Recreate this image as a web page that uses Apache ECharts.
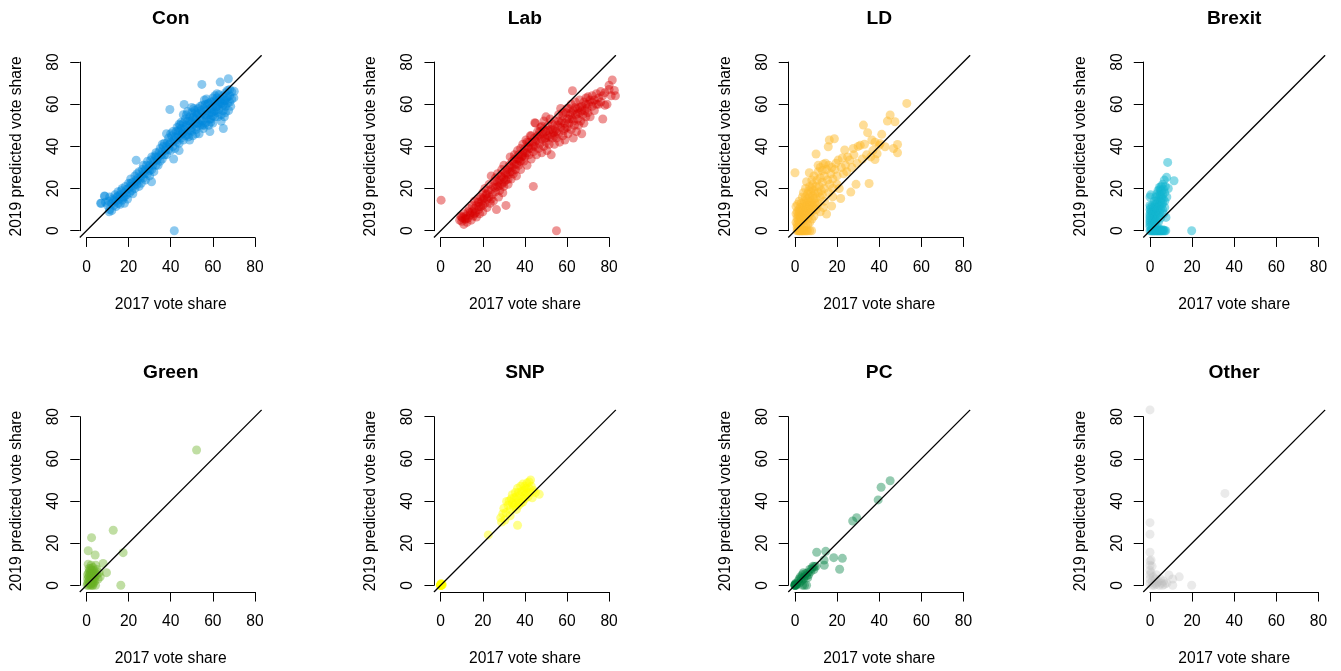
<!DOCTYPE html>
<html><head><meta charset="utf-8">
<script src="https://cdn.jsdelivr.net/npm/echarts@6/dist/echarts.min.js"></script>
<style>html,body{margin:0;padding:0;background:#fff}#c{width:1341px;height:671px}</style>
</head><body><div id="c"></div>
<script>
const parties = ['Con','Lab','LD','Brexit','Green','SNP','PC','Other'];
const partyColours = ['#0087DC','#D70000','#FDBB30','#12B6CF','#6AB023','#FFFF00','#008142','#BEBEBE'];
const partyAlpha = [0.45,0.42,0.5,0.5,0.42,0.45,0.42,0.32];
const axisTicks = [0,20,40,60,80];
const xAxisTitle = '2017 vote share';
const yAxisTitle = '2019 predicted vote share';

const con = [[7,13],[8.5,16.5],[9,13.5],[10,12],[10.5,14],[11,10],[11,16],[12,13],[12,9.5],[12.5,15],[13,12],[13.5,17],[14,14],[14,11.5],[14.5,16],[15,13],[15,18.5],[15.5,15],[16,12.5],[16,17],[16.5,19],[17,14.5],[17,20],[17.5,16],[18,18],[18,13],[18.5,21],[19,17],[19,19.5],[19.5,15],[20,20],[20,22.5],[20.5,18],[21,21],[21,24.5],[21.5,19],[22,23],[22,17.5],[22.5,21.5],[23,26],[23,20],[23.5,24],[24,22],[24,27],[24.5,25],[25,21],[25,28],[25.5,24.5],[26,26],[26,22.5],[26.5,29],[27,25],[27,31],[27.5,27],[28,29],[28,24],[28.5,31],[29,27],[29,33],[29.5,29.5],[30,31],[30,26],[30.5,33.5],[31,29],[31,35],[31.5,31],[32,33],[32,28],[32.5,35.5],[33,31],[33,37],[33.5,33.5],[34,35],[34,31],[34.5,37.5],[35,33],[35,39],[35.5,36],[36,37.5],[36,34],[36.5,40],[37,36],[37,41.5],[37.5,38],[38,40],[38,36],[38.5,42],[39,38.5],[39,44],[39.5,41],[40,42],[40,38],[40.5,45],[41,40],[41,47],[41.5,43],[42,44.5],[42,39],[42.5,47],[43,42],[43,49],[43.5,45],[44,47],[44,41.5],[44.5,50],[45,44],[45,48.5],[45.5,46],[46,51],[46,43],[46.5,48],[47,45],[47,53],[47.5,50],[48,47],[48,52],[48.5,44.5],[49,50],[49,54],[49.5,47.5],[50,52],[50,49],[50,56],[50.5,45],[51,54],[51,50.5],[51.5,57],[52,48],[52,53],[52.5,55],[53,51],[53,58],[53.5,46],[54,54],[54,50],[54.5,57],[55,52],[55,59.5],[55.5,48.5],[56,55],[56,58],[56.5,51],[57,57],[57,53.5],[57.5,60],[58,55],[58,50],[58.5,58],[59,61],[59,53],[59.5,56],[60,59],[60,63],[60,51],[60.5,56.5],[61,61],[61,54],[61.5,58.5],[62,63],[62,56],[62.5,60],[63,64.5],[63,57.5],[63.5,61],[64,55],[64,62.5],[64.5,59],[65,64],[65,57],[65.5,61.5],[66,65.5],[66,59],[66.5,63],[67,60.5],[67,66.5],[68,64],[68,61],[69,66],[70,63],
[41.7,0],[39.6,57.5],[46.4,59.9],[54.8,69.4],[67.4,72.1],[63.5,70.5],[65,48.5],[23.6,33.4],[41.4,34],[30.9,23.2],[70.2,66.1],[58.6,47],[10.8,9],[6.7,13],[8.7,16.4],
[42.5,43],[43.5,47.5],[44.5,45],[45,51.5],[46,46.5],[47,49],[47.5,55],[48,45.5],[49,52],[50,47],[50.5,53.5],[51,58],[52,51],[52.5,49.5],[53,55.5],[54,59],[54.5,52.5],[55,56],[56,50],[56.5,60],[57,55],[58,60.5],[58.5,53],[59,57.5],[60,54.5],[60.5,61.5],[61,57],[62,59],[62.5,54],[63,62],[64,60.5],[65,60],[66,62],[67,63.5],[68,67],[62,65],[56,62],[52,56],[48,56.5],[44,50.5],[40,46],[36,41],[33,35],[30,28.5],[27,28],[24,23.5],[21,22.5],[18,16],[15,16.5],[13,14.5],
[66,56],[67.5,57],[68.5,59],[69,62.5],[65.5,54],[64,52],[38,46],[44,38],[49,43],[52,46],[55,50],[59,51.5],[61,64],[57,62.5],[50,58.5],[46,55]];

const lab = [[9,5],[9.5,7],[10,4.5],[10.5,6],[11,3],[11,8],[11.5,5.5],[12,7],[12.5,4],[13,9],[13,6],[13.5,10.5],[14,7.5],[14.5,5],[15,9],[15,12],[15.5,7],[16,10.5],[16,14],[16.5,8.5],[17,12],[17,6.5],[17.5,15],[18,10],[18,13.5],[18.5,8],[19,16],[19,11.5],[19.5,14],[20,18],[20,12],[20,9],[20.5,15.5],[21,20],[21,13],[21.5,17],[22,11],[22,15],[22.5,19],[23,22],[23,16],[23.5,13],[24,19.5],[24,26],[24.5,17],[25,21],[25,14],[25.5,23.5],[26,18.5],[26,25],[26.5,10],[27,21],[27,27],[27.5,16],[28,24],[28,19],[28.5,26],[29,22],[29,29],[29.5,18],[30,25],[30,31],[30,21],[30.5,27.5],[31,12],[31,24],[31.5,29],[32,26.5],[32,22],[32.5,31],[33,28],[33,35],[33.5,24.5],[34,30],[34,33],[34.5,27],[35,31.5],[35,36],[35.5,29],[36,34],[36,26],[36.5,38],[37,31],[37,36],[37.5,33],[38,39],[38,29],[38.5,35],[39,37],[39,41],[39.5,33],[40,39],[40,35],[40.5,43],[41,37],[41,31],[41.5,40],[42,42],[42,36],[42.5,45],[43,39],[43,34],[43.5,42],[44,37.5],[44,21],[44.5,44],[45,40],[45,51],[45.5,36],[46,43],[46,47],[46.5,39],[47,45],[47,41],[47.5,49],[48,37],[48,43.5],[48.5,46],[49,40],[49,52],[49.5,44],[50,47],[50,42],[50,54],[50.5,38],[51,45],[51,50],[51.5,41],[52,48],[52,53],[52.5,36],[53,44],[53,50.5],[53.5,46.5],[54,41],[54,52],[54.5,48],[55,44],[55,0],[55.5,50],[56,46],[56,55],[56.5,42],[57,58],[57,49],[57.5,52],[58,45],[58,54.5],[58.5,47.5],[59,51],[59,43],[59.5,56],[60,49],[60,53],[60.5,46],[61,58],[61,51],[61.5,55],[62,48],[62,60],[62.5,53],[63,44],[63,57],[63.5,50],[64,55],[64,61],[64.5,47],[65,53],[65,58],[65.5,50],[66,56],[66,62],[66.5,52],[67,59],[67,46],[67.5,55],[68,61],[68,51],[68.5,57],[69,63],[69,54],[69.5,58],[70,60],[70,56],[71,62],[71,54],[72,64],[72,59],[73,57],[73,62],[74,65],[74,60],[75,63],[76,66],[76,61],[77,53],[77,64],[78,59.5],[78,65.5],[79,60],[80,67],[81,64],[81.5,71.5],[82.5,66.5],[62.6,66.4],[44.7,51.2],[0.2,14.5],[83,64],[80,69],
[27,23],[29,25.5],[31,27],[33,30.5],[35,34],[37,34],[39,35.5],[41,42],[43,45],[45,42.5],[47,47],[49,48],[51,47.5],[53,48],[55,47],[57,51],[59,48.5],[61,53],[63,52],[65,55.5],[67,57],[69,60],[58,56],[60,58],[54,45],[50,44],[46,45],[42,39],[38,33],[34,28],[30,23],[26,20.5],[22,17.5],[18,11.5],[14,8.5],[12,5.5],[10,6.5],[62,56],[64,58.5],[66,58.5],[70,63.5],[72,61],[75,60],[56,52],[52,44.5],[48,49.5],[44,40],[40,37],[36,31.5],[32,24.5],[28,21.5],[24,15],[20,15],[16,8]];

const ld = [[1,0],[1.5,0],[2,0],[2.5,0],[3,0],[3.5,0],[4,0],[4.5,0],[5,0],[5.5,0],[6,0],[7,0],[7.9,0],[2.2,0],[3.2,0],
[0.5,4],[0.5,8],[0.5,11.5],[0,27.5],[1,3],[1,6],[1,9],[1.2,12.5],[1.5,2],[1.5,5],[1.5,7.5],[1.8,10],[2,4],[2,6.5],[2,9],[2,14],[2.3,3],[2.5,5.5],[2.5,8],[2.5,11],[2.8,7],[3,4],[3,6],[3,9.5],[3,13],[3.3,5],[3.5,7.5],[3.5,11],[3.5,16],[3.8,9],[4,5],[4,7],[4,12.5],[4,18],[4.3,10],[4.5,6],[4.5,8.5],[4.5,14],[4.8,11.5],[5,7],[5,9.5],[5,16],[5,20],[5.3,13],[5.5,8],[5.5,11],[5.5,23.2],[5.8,15],[6,9],[6,12],[6,17.5],[6.2,6],[6.5,10.5],[6.5,14],[6.5,19],[6.8,27.5],[7,8],[7,12],[7,16],[7,21],[7.3,13.5],[7.5,10],[7.5,18],[8,9],[8,14],[8,20],[8,24],[8.3,12],[8.5,16.5],[8.5,22],[9,11],[9,15],[9,19],[9,26],[9.5,13],[9.5,17.5],[10,21],[10,15.5],[10,36.4],[10.5,24],[10.5,12],[11,18],[11,28],[11,31],[11.5,21],[12,16],[12,25],[12,30],[12.5,19],[13,23],[13,28.5],[13.5,11],[13.5,31.5],[14,26],[14,20],[14.5,32],[15,29],[15,7.9],[15.5,24],[15.8,39.8],[16,31],[16.3,43],[16.5,22],[17,27],[17.4,11.7],[17.5,30],[17.9,16.1],[18,24.5],[18.7,43.6],[19,29],[19.5,32],[20,26],[20.5,33.5],[21,20],[21.7,15.3],[22,30],[22.5,34.5],[23,27],[23.6,38.3],[24,31],[24.6,28],[25,35],[26,33.5],[26.5,18.3],[27,30],[27.7,39],[28,36],[29,22],[29.5,32],[30,40],[31,40.5],[32,34],[32.5,50.1],[33,41],[34,36],[34.5,46.5],[35.2,22.4],[36,35],[36.5,43],[37,38],[38,33.8],[38,42],[39,36.5],[40,40.5],[40.4,41.4],[41.2,45.7],[42.8,39.8],[43.9,52],[45.2,54.9],[46.8,39],[47.5,51.7],[48.7,40.9],[48.7,37],[53.1,60.4],[12,9],[14,14],[16,18],[18,20],[20,22],[13,17],[11,13],[10,10],[9,7],[8,5.5],[7,4],[6,3],[5,2.5],[4,2],[3,1.5],[2,1],[1,1.5]];

const brexit = [[0,0],[0.5,0],[1,0],[1.5,0],[2,0],[2.5,0],[3,0],[3.5,0],[4,0],[4.5,0],[5,0],[5.5,0],[6,0],[6.5,0],[7,0],[7.5,0],[1.2,0],[2.2,0],[3.2,0],[4.2,0],[5.2,0],[19.8,0],[0.8,0.8],[2.7,0.6],[4.7,0.7],[6.2,0.5],
[0,2],[0,4],[0,6],[0,8],[0,10],[0,12],[0,16],[0.3,17],[0,3],[0,5],[0,7],[0.3,9],[0.2,11],
[1,3],[1,6],[1,9],[1.2,12],[1.5,4.5],[1.5,8],[1.8,11],[2,3],[2,6],[2,10],[2,14],[2.3,7],[2.5,4],[2.5,9],[2.5,12.5],[2.8,16],[3,5],[3,8],[3,11],[3.2,17.4],[3.3,14],[3.5,6],[3.5,9.5],[3.5,13],[3.8,19],[4,7],[4,11],[4,15],[4.3,17],[4.5,8.5],[4.5,12],[4.5,20.5],[4.8,19.6],[5,10],[5,14],[5,17],[5.3,21],[5.5,12],[5.5,15.5],[5.5,19],[6,13],[6,17],[6,22],[6.3,15],[6.5,19.5],[6.8,24],[7,14],[7,18],[7.3,21],[7.6,6.3],[7.9,25.3],[8.4,32.4],[8.7,20],[11.4,23.7],[8,16],[6,10],[5,6],[4,4],[3,2.5],[7,11],[6.5,8]];

const green = [[52.3,64.2],[12.7,26.1],[2.4,22.6],[0.8,16.4],[4.1,14.4],[17.4,15.5],[7.9,10.4],[9.5,6],[16.3,0],[4.4,9.5],[4.3,0],
[0.5,1],[0.5,3],[0.5,5],[1,0],[1,2],[1,4],[1,6],[1.5,1],[1.5,3],[1.5,5],[1.5,7],[2,0],[2,2],[2,4],[2,6],[2,8],[2.5,1],[2.5,3],[2.5,5],[2.5,7],[3,0],[3,2],[3,4],[3,6],[3,8.5],[3.5,3],[3.5,5],[3.5,7],[4,2],[4,4],[4,6],[5,5],[5,7.5],[5.5,3],[6,6],[1.2,8],[0.8,10],[2.2,9.5],[3.3,1],[1.8,0.5],[2.7,0],[0.3,0],[6.5,4]];

const snp = [[0,0],[0,0],[0,0],[0,0],[0.3,0.2],[0.5,0],[0,0.5],[0.8,0.3],[0.2,0.8],[0.5,0.5],[0,0],[0,0],
[22.6,23.9],[28.9,30],[28.5,32],[29.5,34],[30,36.5],[30.5,31],[31.3,39.8],[32,38],[32.5,40],[33,36],[33.5,41],[34,39],[34,43],[34.5,37],[35,41.5],[35.5,44],[35.5,39],[36,42],[36.5,28.5],[36.5,46],[37,40],[37,44],[37.5,42.5],[38,47],[38,39],[38.5,44.5],[39,41],[39,48],[39.5,45],[40,43],[40,47],[40.5,46],[41,44],[41,48.5],[41.5,42],[42,46],[42,49],[42.5,44],[42.7,50],[43,47],[43.5,41.5],[44,45],[45,44],[46.8,43.2],[36,36],[33,33],[31,34.5],[37,38],[39,39.5],[40,41],[35,38]];

const pc = [[0,0],[0,0],[0,0],[0,0],[0.3,0.3],[0.5,0],[0,0.5],[0.8,0.5],[0.4,1],
[45.2,49.6],[40.9,46.5],[39.5,40.5],[27.4,30.5],[29.3,32.1],[10.3,15.7],[14.6,16.1],[13.8,12],[13.9,9.5],[18.4,13.1],[22.5,12.8],[21.2,7.6],[9.2,8.9],[5.5,0],[3.6,0],[2,3],[2.5,4],[3,3.5],[3.5,5],[4,6],[4.5,4],[5,5.5],[5.5,4.5],[6,6],[6.5,5],[7,7.5],[7.5,6.5],[8,8],[8.5,9],[9,7.5],[10,9],[2,1],[3,2],[4,3],[1.5,2],[6,3.5],[4.5,0]];

const other = [[0,83.2],[35.6,43.6],[0,29.7],[0,24.2],[0,15.7],[0,11.5],[0,9.5],[0,7],[0,5],[0,3],[0,1],[19.8,0],[13.9,4],[9,4.9],[10.8,3],[10.8,0],[1,2],[1.5,4],[2,1],[2.5,3],[3,5],[3,0.5],[4,2],[4.5,0],[5,3],[5.5,1],[6,0],[6.5,2],[7,0.5],[2,0],[1,0],[3.5,1.5],[0.5,6],[8,1],[1,9],[0.5,12]];

const partyData = [con, lab, ld, brexit, green, snp, pc, other];

// ---- layout ----
const colZeroX = [86.5, 440.7, 795, 1150];
const rowZeroY = [230.7, 585.3];
const ux = 2.105, uy = 2.108;
const lo = axisTicks[0], hi = axisTicks[axisTicks.length - 1];
const step = axisTicks[1] - axisTicks[0];
const pad = 0.04 * (hi - lo);
const FONT = "'Liberation Sans', Arial, Helvetica, sans-serif";
const FS = 15.6;

const grid = [], xAxis = [], yAxis = [], series = [], title = [];
parties.forEach((p, i) => {
  const c = i % 4, r = Math.floor(i / 4);
  const x0 = colZeroX[c], y0 = rowZeroY[r];
  const plotLeft = x0 - pad * ux, plotTop = y0 - (hi + pad) * uy;
  const plotW = (hi - lo + 2 * pad) * ux, plotH = (hi - lo + 2 * pad) * uy;

  let g = grid.length;
  grid.push({ left: plotLeft, top: plotTop, width: plotW, height: plotH });
  xAxis.push({ gridIndex: g, type: 'value', min: lo - pad, max: hi + pad, show: false });
  yAxis.push({ gridIndex: g, type: 'value', min: lo - pad, max: hi + pad, show: false });
  series.push({
    type: 'scatter', xAxisIndex: g, yAxisIndex: g, data: partyData[i],
    symbolSize: 9, clip: true, silent: true, z: 2,
    itemStyle: { color: partyColours[i], opacity: partyAlpha[i] }
  });
  series.push({
    type: 'line', xAxisIndex: g, yAxisIndex: g,
    data: [[lo - pad, lo - pad], [hi + pad, hi + pad]],
    symbol: 'none', clip: true, silent: true, z: 3,
    lineStyle: { color: '#000', width: 1.3 }
  });

  g = grid.length;
  grid.push({ left: x0, width: (hi - lo) * ux, top: plotTop + plotH - 10, height: 10 });
  xAxis.push({
    gridIndex: g, type: 'value', min: lo, max: hi, interval: step, position: 'bottom',
    axisLine: { show: true, onZero: false, lineStyle: { color: '#000', width: 1 } },
    axisTick: { show: true, length: 9.5, lineStyle: { color: '#000', width: 1 } },
    axisLabel: { fontSize: FS, fontFamily: FONT, color: '#000', margin: 22 },
    splitLine: { show: false },
    name: xAxisTitle, nameLocation: 'middle', nameGap: 59,
    nameTextStyle: { fontSize: FS, fontFamily: FONT, color: '#000' }
  });
  yAxis.push({ gridIndex: g, type: 'value', min: 0, max: 1, show: false });

  g = grid.length;
  grid.push({ left: plotLeft, width: 10, top: y0 - hi * uy, height: (hi - lo) * uy });
  xAxis.push({ gridIndex: g, type: 'value', min: 0, max: 1, show: false });
  yAxis.push({
    gridIndex: g, type: 'value', min: lo, max: hi, interval: step, position: 'left',
    axisLine: { show: true, onZero: false, lineStyle: { color: '#000', width: 1 } },
    axisTick: { show: true, length: 9.5, lineStyle: { color: '#000', width: 1 } },
    axisLabel: { fontSize: FS, fontFamily: FONT, color: '#000', margin: 18, rotate: 90 },
    splitLine: { show: false },
    name: yAxisTitle, nameLocation: 'middle', nameGap: 55,
    nameTextStyle: { fontSize: FS, fontFamily: FONT, color: '#000' }
  });

  title.push({
    text: p, left: plotLeft + plotW / 2, top: y0 - hi * uy - 53, textAlign: 'center', padding: 0,
    textStyle: { fontSize: 19.2, fontWeight: 'bold', fontFamily: FONT, color: '#000' }
  });
});

const chart = echarts.init(document.getElementById('c'), null, { renderer: 'canvas' });
chart.setOption({ animation: false, backgroundColor: '#fff', title, grid, xAxis, yAxis, series });
</script>
</body></html>
